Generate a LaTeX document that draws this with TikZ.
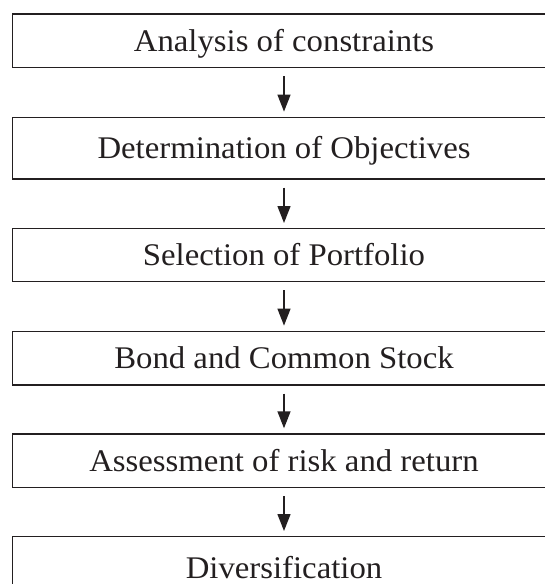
\documentclass[tikz,border=0pt]{standalone}
\usepackage{fontspec}
\setmainfont{Liberation Serif}[FakeStretch=1.04]
\usetikzlibrary{arrows.meta}
\definecolor{ink}{HTML}{231F20}
\begin{document}
\begin{tikzpicture}[x=1pt,y=-1pt,
  stagebox/.style={draw=ink, line width=1.4pt, rectangle, minimum width=542.6pt,
    inner sep=0pt, text=ink, font=\fontsize{31.5}{36}\selectfont,
    text height=20.8pt, text depth=0pt, anchor=center},
  flowarrow/.style={draw=ink, line width=1.4pt, -{Triangle[length=17pt,width=13pt]},
    shorten <=8pt, shorten >=5pt}]
\useasboundingbox (0,0) rectangle (545,584);
\node[stagebox, minimum height=53.5pt] (b1) at (284,40.75) {Analysis of constraints};
\node[stagebox, minimum height=61.7pt] (b2) at (284,148.15) {Determination of Objectives};
\node[stagebox, minimum height=53pt] (b3) at (284,255.2) {Selection of Portfolio};
\node[stagebox, minimum height=53.7pt] (b4) at (284,358.15) {Bond and Common Stock};
\node[stagebox, minimum height=53.7pt] (b5) at (284,460.85) {Assessment of risk and return};
\node[stagebox, minimum height=62pt] (b6) at (284,567.7) {Diversification};
\draw[flowarrow] (b1) -- (b2);
\draw[flowarrow] (b2) -- (b3);
\draw[flowarrow] (b3) -- (b4);
\draw[flowarrow] (b4) -- (b5);
\draw[flowarrow] (b5) -- (b6);
\end{tikzpicture}
\end{document}
